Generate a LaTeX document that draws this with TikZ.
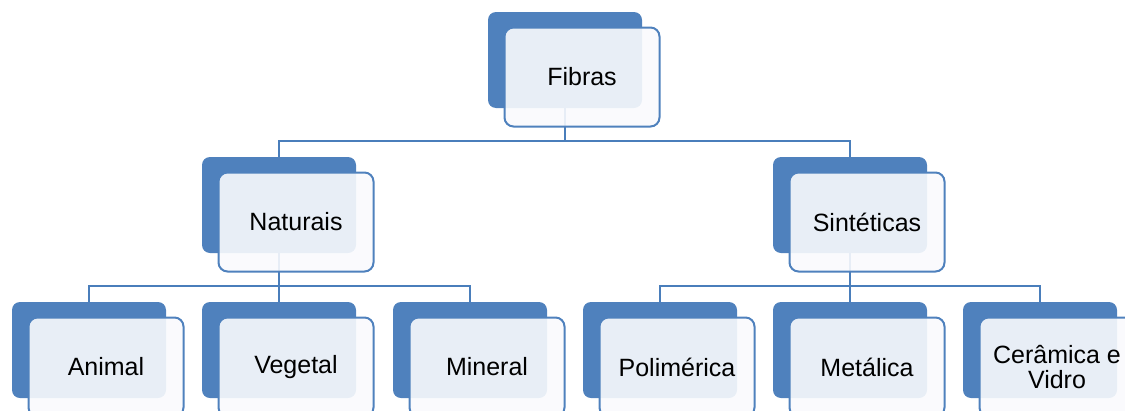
\documentclass[tikz,border=0pt]{standalone}
\usepackage{fontspec}
\setmainfont{Liberation Sans}
\usepackage{xcolor}
\usetikzlibrary{calc}
\definecolor{oblue}{HTML}{4F81BD}
\definecolor{olink}{HTML}{4A7EBB}
\definecolor{opale}{HTML}{F9FAFD}

\begin{document}
\begin{tikzpicture}[x=1pt, y=-1pt,
  back/.style={fill=oblue, rounded corners=8pt, minimum width=154pt, minimum height=96pt, inner sep=0pt},
  front/.style={draw=oblue, line width=2pt, fill=opale, fill opacity=0.9, text opacity=1,
    rounded corners=9pt, minimum width=155pt, minimum height=99pt, inner sep=2pt,
    align=center, font=\fontsize{25}{28}\selectfont, text=black},
  link/.style={draw=olink, line width=2.2pt}]
\useasboundingbox (0,0) rectangle (1125,410);
\clip (0,0) rectangle (1125,410);
% dark backing panels
\node[back] (fibrasB) at (565,60) {};
\node[back] (natB) at (279,205) {};
\node[back] (sintB) at (850,205) {};
\node[back] (animalB) at (89,350) {};
\node[back] (vegetalB) at (279,350) {};
\node[back] (mineralB) at (470,350) {};
\node[back] (polimB) at (660,350) {};
\node[back] (metalB) at (850,350) {};
\node[back] (ceramB) at (1040,350) {};
% tree connectors
\draw[link] (fibrasB.south) -- ++(0,33) -| (natB.north);
\draw[link] (fibrasB.south) -- ++(0,33) -| (sintB.north);
\draw[link] (natB.south) -- ++(0,33) -| (animalB.north);
\draw[link] (natB.south) -- ++(0,33) -| (vegetalB.north);
\draw[link] (natB.south) -- ++(0,33) -| (mineralB.north);
\draw[link] (sintB.south) -- ++(0,33) -| (polimB.north);
\draw[link] (sintB.south) -- ++(0,33) -| (metalB.north);
\draw[link] (sintB.south) -- ++(0,33) -| (ceramB.north);
% light panels with the labels
\node[front] (fibras) at ($(fibrasB)+(17,17)$) {Fibras};
\node[front] (nat) at ($(natB)+(17,17)$) {Naturais};
\node[front] (sint) at ($(sintB)+(17,17)$) {Sintéticas};
\node[front] (animal) at ($(animalB)+(17,17)$) {Animal};
\node[front] (vegetal) at ($(vegetalB)+(17,17)$) {Vegetal};
\node[front] (mineral) at ($(mineralB)+(17,17)$) {Mineral};
\node[front] (polim) at ($(polimB)+(17,17)$) {Polimérica};
\node[front] (metal) at ($(metalB)+(17,17)$) {Metálica};
\node[front] (ceram) at ($(ceramB)+(17,17)$) {Cerâmica e\\[-3pt]Vidro};
\end{tikzpicture}
\end{document}
